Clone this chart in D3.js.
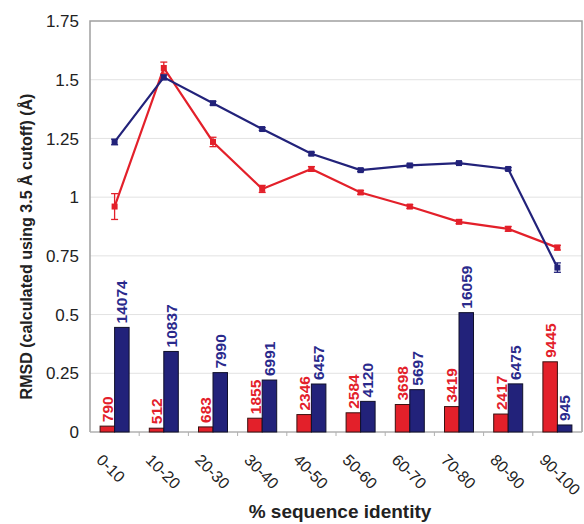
<!DOCTYPE html>
<html>
<head>
<meta charset="utf-8">
<script src="https://cdn.jsdelivr.net/npm/d3@7"></script>
<style>
  body { margin: 0; background: #fff; }
  text { font-family: "Liberation Sans", Arial, sans-serif; }
</style>
</head>
<body>
<div id="chart"></div>
<script>
const categories = ["0-10", "10-20", "20-30", "30-40", "40-50", "50-60", "60-70", "70-80", "80-90", "90-100"];
const redRmsd = [0.96, 1.55, 1.235, 1.035, 1.12, 1.02, 0.96, 0.895, 0.865, 0.785];
const redErr = [0.055, 0.025, 0.02, 0.015, 0.01, 0.008, 0.008, 0.008, 0.01, 0.01];
const blueRmsd = [1.235, 1.51, 1.40, 1.29, 1.185, 1.115, 1.135, 1.145, 1.12, 0.70];
const blueErr = [0.012, 0.01, 0.008, 0.006, 0.006, 0.006, 0.006, 0.005, 0.006, 0.02];
const redCounts = [790, 512, 683, 1855, 2346, 2584, 3698, 3419, 2417, 9445];
const blueCounts = [14074, 10837, 7990, 6991, 6457, 4120, 5697, 16059, 6475, 945];
const yTicks = [0, 0.25, 0.5, 0.75, 1, 1.25, 1.5, 1.75];

const margin = { top: 21, right: 2, bottom: 92, left: 90 };
const width = 584 - margin.left - margin.right;
const height = 524 - margin.top - margin.bottom;

const red = "#e3202a";
const blue = "#22227a";

const svg = d3.select("#chart")
  .append("svg")
  .attr("width", 584)
  .attr("height", 524)
  .append("g")
  .attr("transform", `translate(${margin.left}, ${margin.top})`);

const x = d3.scaleBand().domain(categories).range([0, width]);
const y = d3.scaleLinear().domain([0, 1.75]).range([height, 0]);
// bar counts share the plot height; 16059 sits at about 0.51 on the RMSD axis
const yCount = d3.scaleLinear().domain([0, 1.75 * 31600]).range([height, 0]);

// gridlines
svg.append("g")
  .selectAll("line")
  .data(yTicks.filter(d => d > 0 && d < 1.75))
  .join("line")
  .attr("x1", 0).attr("x2", width)
  .attr("y1", d => y(d)).attr("y2", d => y(d))
  .attr("stroke", "#e2e2e2")
  .attr("stroke-width", 1);

// frame
svg.append("path")
  .attr("d", `M0,${height}V0H${width}V${height}`)
  .attr("fill", "none")
  .attr("stroke", "#a0a0a0")
  .attr("stroke-width", 1.5);

// y axis labels
svg.append("g")
  .selectAll("text")
  .data(yTicks)
  .join("text")
  .attr("x", -11)
  .attr("y", d => y(d))
  .attr("dy", "0.36em")
  .attr("text-anchor", "end")
  .attr("font-size", 17)
  .attr("fill", "#222")
  .text(d => d3.format("")(d));

// x axis line and ticks between categories
svg.append("line")
  .attr("x1", 0).attr("x2", width)
  .attr("y1", height).attr("y2", height)
  .attr("stroke", "#b0b0b0")
  .attr("stroke-width", 1.5);
svg.append("g")
  .selectAll("line")
  .data(categories.slice(1))
  .join("line")
  .attr("x1", d => x(d)).attr("x2", d => x(d))
  .attr("y1", height).attr("y2", height + 4)
  .attr("stroke", "#b0b0b0");

// bars
const barW = 14.5;
const bars = svg.append("g");
bars.selectAll(".bar-red")
  .data(categories)
  .join("rect")
  .attr("x", d => x(d) + x.bandwidth() / 2 - barW)
  .attr("y", (d, i) => yCount(redCounts[i]))
  .attr("width", barW)
  .attr("height", (d, i) => height - yCount(redCounts[i]))
  .attr("fill", red)
  .attr("stroke", "#3a1010")
  .attr("stroke-width", 1);
bars.selectAll(".bar-blue")
  .data(categories)
  .join("rect")
  .attr("x", d => x(d) + x.bandwidth() / 2)
  .attr("y", (d, i) => yCount(blueCounts[i]))
  .attr("width", barW)
  .attr("height", (d, i) => height - yCount(blueCounts[i]))
  .attr("fill", blue)
  .attr("stroke", "#10102a")
  .attr("stroke-width", 1);

// bar labels
function barLabels(counts, offset, color) {
  svg.append("g")
    .selectAll("text")
    .data(categories)
    .join("text")
    .attr("transform", (d, i) =>
      `translate(${x(d) + x.bandwidth() / 2 + offset},${yCount(counts[i]) - 4}) rotate(-90)`)
    .attr("dy", "0.36em")
    .attr("font-size", 15.5)
    .attr("font-weight", "bold")
    .attr("fill", color)
    .text((d, i) => counts[i]);
}
barLabels(redCounts, -barW / 2, red);
barLabels(blueCounts, barW / 2, "#2a2a8c");

// lines with error bars
function series(values, errs, color) {
  const line = d3.line()
    .x((d, i) => x(categories[i]) + x.bandwidth() / 2)
    .y(d => y(d));
  svg.append("path")
    .datum(values)
    .attr("d", line)
    .attr("fill", "none")
    .attr("stroke", color)
    .attr("stroke-width", 2.2);
  const g = svg.append("g").attr("stroke", color).attr("stroke-width", 1.3);
  categories.forEach((c, i) => {
    const cx = x(c) + x.bandwidth() / 2;
    const top = y(values[i] + errs[i]);
    const bot = y(values[i] - errs[i]);
    g.append("line").attr("x1", cx).attr("x2", cx).attr("y1", top).attr("y2", bot);
    g.append("line").attr("x1", cx - 3.5).attr("x2", cx + 3.5).attr("y1", top).attr("y2", top);
    g.append("line").attr("x1", cx - 3.5).attr("x2", cx + 3.5).attr("y1", bot).attr("y2", bot);
  });
  svg.append("g")
    .selectAll("rect")
    .data(values)
    .join("rect")
    .attr("x", (d, i) => x(categories[i]) + x.bandwidth() / 2 - 3)
    .attr("y", d => y(d) - 3)
    .attr("width", 6)
    .attr("height", 6)
    .attr("fill", color);
}
series(redRmsd, redErr, red);
series(blueRmsd, blueErr, blue);

// x tick labels, rotated
svg.append("g")
  .selectAll("text")
  .data(categories)
  .join("text")
  .attr("transform", d => `translate(${x(d) + x.bandwidth() / 2 - 19},${height + 29}) rotate(45)`)
  .attr("font-size", 16)
  .attr("fill", "#222")
  .text(d => d);

// axis titles
svg.append("text")
  .attr("x", width / 2 + 4)
  .attr("y", height + 86)
  .attr("text-anchor", "middle")
  .attr("font-size", 19)
  .attr("font-weight", "bold")
  .attr("fill", "#222")
  .text("% sequence identity");

svg.append("text")
  .attr("transform", `translate(${-margin.left + 26},${y(0.875) + 20}) rotate(-90)`)
  .attr("dy", "0.36em")
  .attr("text-anchor", "middle")
  .attr("font-size", 16)
  .attr("font-weight", "bold")
  .attr("fill", "#222")
  .text("RMSD (calculated using 3.5 Å cutoff) (Å)");
</script>
</body>
</html>
